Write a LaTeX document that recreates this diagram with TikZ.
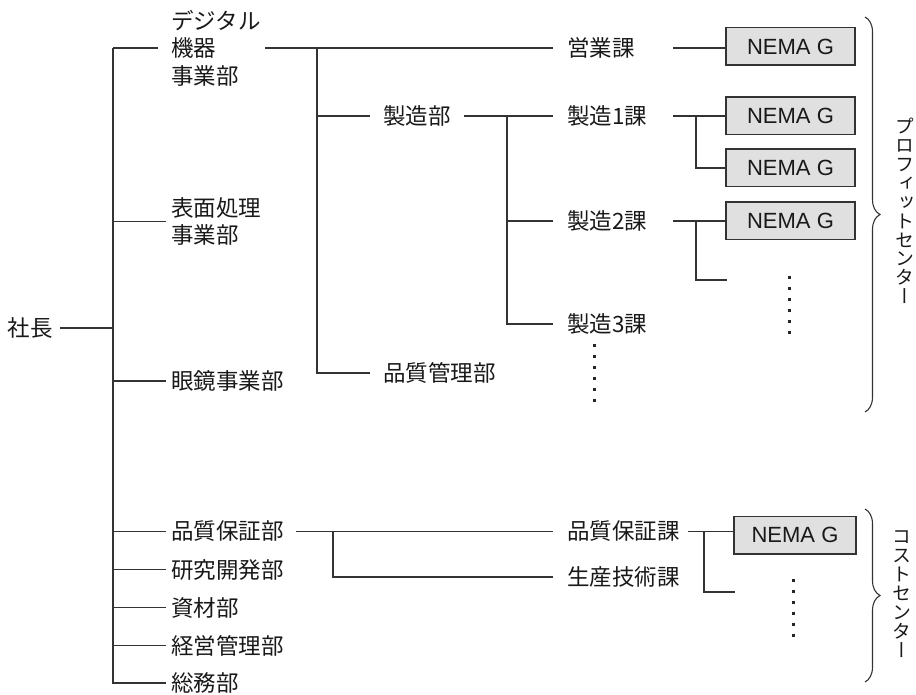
\documentclass[tikz,border=0pt]{standalone}
\usepackage{fontspec}
\newfontfamily\jp{Noto Sans CJK JP}
\newfontfamily\jpv[RawFeature=+vert]{Noto Sans CJK JP}
\newfontfamily\lat{Liberation Sans}
\usetikzlibrary{decorations.pathreplacing}
\newcommand\jpf{\jp\fontsize{22.5pt}{27.5pt}\selectfont}
\newcommand\jpvf{\jpv\fontsize{19pt}{18.9pt}\selectfont}
\newcommand\latf{\lat\fontsize{22pt}{26pt}\selectfont}
\tikzset{
  conn/.style={draw=black!80, line width=1.5pt},
  lvlone/.style={font=\jpf, anchor=west, inner xsep=5pt, inner ysep=1pt, align=left, text=black!90},
  lvlmid/.style={lvlone, inner xsep=13pt},
  nbox/.style={draw=black!80, line width=1.5pt, fill=black!12, minimum width=129pt, minimum height=37.5pt, font=\latf, inner sep=0pt, text=black!90},
  dotcol/.style={line width=3pt, dash pattern=on 3pt off 7.9pt, draw=black!85},
  bracestyle/.style={draw=black!80, line width=1.1pt, decorate, decoration={brace, amplitude=15pt}},
  vtxt/.style={font=\jpvf, align=center, inner sep=0pt, text=black!90}
}
\begin{document}
\begin{tikzpicture}[x=1pt, y=-1pt]
\useasboundingbox (0,0) rectangle (916,695);
% level 0
\node[lvlone, anchor=east, inner xsep=7pt] (shacho) at (60,328) {社長};
% level 1
\node[lvlone, inner xsep=13pt] (dig) at (158,48) {デジタル\\機器\\事業部};
\node[lvlone] (hyo) at (166,221.5) {表面処理\\事業部};
\node[lvlone] (megane) at (166,381) {眼鏡事業部};
\node[lvlone] (hinsho) at (166,531.5) {品質保証部};
\node[lvlone] (kenkyu) at (166,569.5) {研究開発部};
\node[lvlone] (shizai) at (166,607.5) {資材部};
\node[lvlone] (keiei) at (166,645.5) {経営管理部};
\node[lvlone] (somu) at (166,683) {総務部};
% level 2
\node[lvlmid] (seizo) at (370,116) {製造部};
\node[lvlmid] (hinkan) at (370,373) {品質管理部};
% level 3
\node[lvlmid, inner xsep=14pt] (eigyo) at (553,48) {営業課};
\node[lvlmid, inner xsep=14pt] (s1) at (553,116) {製造1課};
\node[lvlmid, inner xsep=14pt] (s2) at (553,221) {製造2課};
\node[lvlmid, inner xsep=14pt] (s3) at (553,324) {製造3課};
\node[lvlmid, inner xsep=14pt] (hinshoka) at (553,531.5) {品質保証課};
\node[lvlmid, inner xsep=14pt] (seisan) at (553,577) {生産技術課};
% boxes
\node[nbox] (b1) at (790.5,46.5) {NEMA G};
\node[nbox] (b2) at (790.5,116) {NEMA G};
\node[nbox] (b3) at (790.5,168) {NEMA G};
\node[nbox] (b4) at (790.5,221) {NEMA G};
\node[nbox, minimum width=122pt] (b5) at (795,535) {NEMA G};
% trunk
\coordinate (trunk) at (113,48);
\draw[conn] (trunk) -- (trunk |- somu.west) -- (somu.west);
\foreach \n in {dig,hyo,megane,hinsho,kenkyu,shizai,keiei}
  \draw[conn] (trunk |- \n.west) -- (\n.west);
\draw[conn] (shacho.east) -- (shacho.east -| trunk);
% level 2 links
\draw[conn] ([xshift=-9pt]dig.east) -- (eigyo.west);
\coordinate (v2) at (317,48);
\draw[conn] (v2) -- (v2 |- hinkan.west) -- (hinkan.west);
\draw[conn] (v2 |- seizo.west) -- (seizo.west);
% level 3 links
\draw[conn] (seizo.east) -- (s1.west);
\coordinate (v3) at (507,116);
\draw[conn] (v3) -- (v3 |- s3.west) -- (s3.west);
\draw[conn] (v3 |- s2.west) -- (s2.west);
% boxes links
\coordinate (r1) at (673,48);
\draw[conn] (r1) -- (r1 -| b1.west);
\coordinate (r2) at (673,116);
\draw[conn] (r2) -- (r2 -| b2.west);
\coordinate (v4) at (696,116);
\draw[conn] (v4) -- (v4 |- b3.west) -- (b3.west);
\coordinate (r3) at (673,221);
\draw[conn] (r3) -- (r3 -| b4.west);
\coordinate (v5) at (696,221);
\coordinate (open1) at (727,280);
\draw[conn] (v5) -- (v5 |- open1) -- (open1);
% bottom links
\draw[conn] ([xshift=7pt]hinsho.east) -- (hinshoka.west);
\coordinate (v6) at (333,531.5);
\draw[conn] (v6) -- (v6 |- seisan.west) -- (seisan.west);
\coordinate (r5) at (688,531.5);
\draw[conn] (r5) -- (r5 -| b5.west);
\coordinate (v7) at (704,531.5);
\coordinate (open2) at (735,592);
\draw[conn] (v7) -- (v7 |- open2) -- (open2);
% dots
\draw[dotcol] (594,344) -- (594,403);
\draw[dotcol] (789,276) -- (789,335);
\draw[dotcol] (793,579) -- (793,638);
% braces
\draw[bracestyle] (865,17) -- (865,412);
\draw[bracestyle] (865,509) -- (865,682);
\node[vtxt] (profit) at (905,211) {プ\\ロ\\フ\\ィ\\ッ\\ト\\セ\\ン\\タ\\ー};
\node[vtxt] (cost) at (902,594) {コ\\ス\\ト\\セ\\ン\\タ\\ー};
\end{tikzpicture}
\end{document}
